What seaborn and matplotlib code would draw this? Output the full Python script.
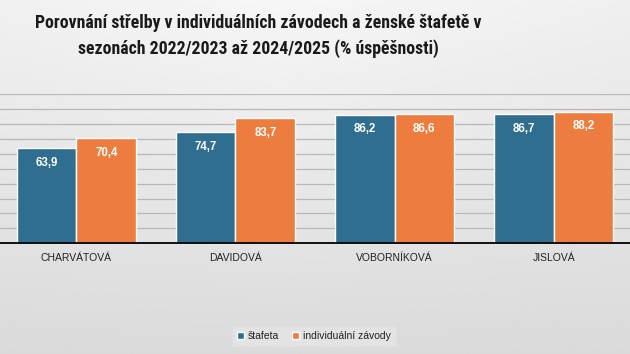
import numpy as np
import pandas as pd
import matplotlib
matplotlib.use("Agg")
import matplotlib.pyplot as plt
from matplotlib import font_manager as fm
import seaborn as sns

names = ["CHARVÁTOVÁ", "DAVIDOVÁ", "VOBORNÍKOVÁ", "JISLOVÁ"]
stafeta = [63.9, 74.7, 86.2, 86.7]
individualni = [70.4, 83.7, 86.6, 88.2]
series = ["štafeta", "individuální závody"]
title = "Porovnání střelby v individuálních závodech a ženské štafetě v\nsezonách 2022/2023 až 2024/2025 (% úspěšnosti)"

df = pd.DataFrame({
    "jmeno": names * 2,
    "serie": [series[0]] * len(names) + [series[1]] * len(names),
    "hodnota": stafeta + individualni,
})

sns.set_theme(style="white")
plt.rcParams["font.family"] = ["Liberation Sans", "DejaVu Sans"]

# locate font files: narrow bold for title, regular bold for labels
cond = None
cond_any = None
regbold = None
regular = None
for f in fm.fontManager.ttflist:
    base = f.fname.split("/")[-1].lower()
    if base == "liberationsans-bold.ttf":
        regbold = f.fname
    if base == "liberationsans-regular.ttf":
        regular = f.fname
    if base.startswith("liberationsansnarrow-bold") and "italic" not in base:
        cond = f.fname
    if ("condensed-bold" in base or "narrow-bold" in base) and "italic" not in base and "oblique" not in base:
        cond_any = f.fname
if cond is None:
    cond = cond_any

fig = plt.figure(figsize=(6.3, 3.54), dpi=100)

bg = fig.add_axes([0, 0, 1, 1], zorder=-10)
yy, xx = np.mgrid[0:1:200j, 0:1:300j]
val = 0.965 - 0.11 * yy - 0.05 * np.abs(xx - 0.45) * (1 - yy)
bg.imshow(val, cmap="gray", vmin=0, vmax=1, aspect="auto", extent=[0, 1, 1, 0])
bg.set_axis_off()

ax = fig.add_axes([-0.005, 0.3127, 1.01, 0.4218])
ax.set_facecolor("none")
colors = ["#2F6E8E", "#EC7D3F"]
sns.barplot(data=df, x="jmeno", y="hodnota", hue="serie", palette=colors,
            saturation=1, width=0.75, edgecolor="white", linewidth=1, ax=ax,
            legend=True, zorder=3)

ax.set_ylim(0, 100)
ax.set_yticks(np.arange(0, 101, 10))
ax.yaxis.grid(True, color="#b8b8b8", linewidth=0.9, zorder=0)
ax.set_axisbelow(True)
ax.set_yticklabels([])
ax.tick_params(axis="y", length=0)
ax.tick_params(axis="x", length=0, pad=7, labelsize=7.5, labelcolor="#222222")
if regular is not None:
    for tl in ax.get_xticklabels():
        tl.set_fontproperties(fm.FontProperties(fname=regular, size=7.5))
ax.set_xlabel("")
ax.set_ylabel("")
for s in ["left", "right", "top"]:
    ax.spines[s].set_visible(False)
ax.spines["bottom"].set_color("black")
ax.spines["bottom"].set_linewidth(1.3)
ax.spines["bottom"].set_zorder(5)

if regbold is not None:
    lp = fm.FontProperties(fname=regbold, size=8.3)
else:
    lp = fm.FontProperties(family="DejaVu Sans", weight="bold", size=8)
for cont in ax.containers:
    labels = [f"{b.get_height():.1f}".replace(".", ",") for b in cont]
    ax.bar_label(cont, labels=labels, padding=-15, color="white",
                 fontproperties=lp)

legprop = fm.FontProperties(fname=regular, size=7.5) if regular else fm.FontProperties(size=7.5)
leg = ax.legend(loc="center", bbox_to_anchor=(314 / 630, 0.051),
                bbox_transform=fig.transFigure, ncol=2, frameon=True,
                prop=legprop, handlelength=0.7, handleheight=0.7,
                handletextpad=0.4, columnspacing=1.2, borderpad=0.5,
                fancybox=False)
leg.get_frame().set_facecolor("#e6e6e6")
leg.get_frame().set_edgecolor("#e0e0e0")
for t in leg.get_texts():
    t.set_color("#222222")
for h in leg.legend_handles:
    h.set_edgecolor("white")

if cond is not None:
    tp = fm.FontProperties(fname=cond, size=15)
else:
    tp = fm.FontProperties(family="DejaVu Sans", stretch="condensed",
                           weight="bold", size=12.5)
t = fig.text(258 / 630, 1 - 36 / 354, title, ha="center", va="center",
             fontproperties=tp, color="#1a1a1a", linespacing=1.45)

# fit title to the reference width
fig.canvas.draw()
bb = t.get_window_extent()
target = 446
if bb.width > 0:
    s = tp.get_size() * min(1.15, target / bb.width)
    tp.set_size(s)
    t.set_fontproperties(tp)

fig.savefig("out.png", dpi=100)
